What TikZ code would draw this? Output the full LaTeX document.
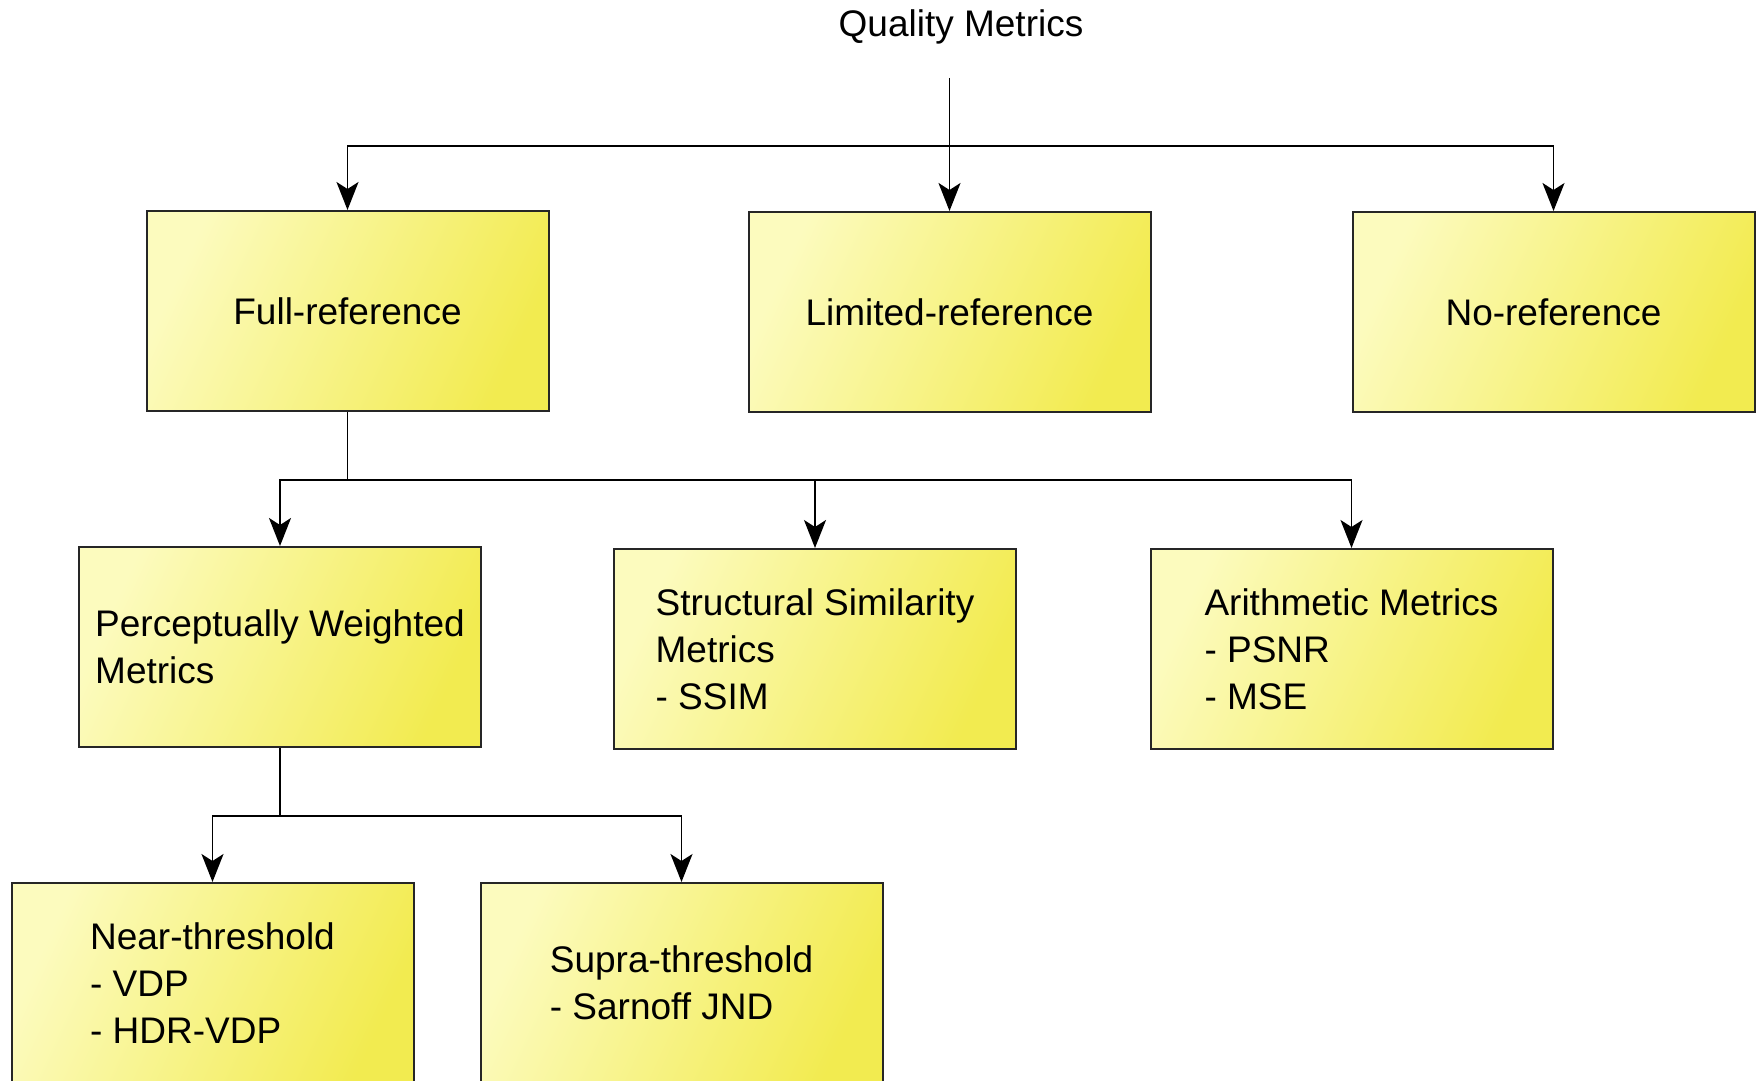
\documentclass[tikz,border=0pt]{standalone}
\usepackage{fontspec}
\setmainfont{Liberation Sans}
\usetikzlibrary{arrows.meta}
\definecolor{ylight}{RGB}{252,251,190}
\definecolor{ydark}{RGB}{242,235,80}
\begin{document}
\begin{tikzpicture}[x=1pt,y=-1pt,
  txt/.style={font=\fontsize{37}{47}\selectfont},
  box/.style={txt, draw=black!85, line width=2pt, minimum width=402pt, minimum height=200pt,
    inner sep=0pt, align=left, left color=ylight, right color=ydark, shading angle=65},
  arr/.style={line width=1.8pt, -{Stealth[length=28pt,width=22pt,inset=7pt]}},
  conn/.style={line width=1.8pt}]
\clip (0,0) rectangle (1756,1081);
\node[txt, anchor=base] (title) at (961,37) {Quality Metrics};
\node[box] (full) at (347.5,311) {Full-reference};
\node[box] (limited) at (949.5,312) {Limited-reference};
\node[box] (noref) at (1553.5,312) {No-reference};
\node[box] (perc) at (280,647) {Perceptually Weighted\\Metrics};
\node[box] (struct) at (815,649) {Structural Similarity\\Metrics\\- SSIM};
\node[box] (arith) at (1351.5,649) {Arithmetic Metrics\\- PSNR\\- MSE};
\node[box] (near) at (212.5,983) {Near-threshold\\- VDP\\- HDR-VDP};
\node[box] (supra) at (681.5,983) {Supra-threshold\\- Sarnoff JND};
% level 1
\coordinate (qstart) at (limited.north |- 0,78);
\coordinate (bus1) at (limited.north |- 0,146);
\draw[arr] (qstart) -- (limited.north);
\draw[arr] (bus1) -| (full.north);
\draw[arr] (bus1) -| (noref.north);
% level 2
\coordinate (bus2) at (full.south |- 0,480);
\draw[conn] (full.south) -- (bus2);
\draw[arr] (bus2) -| (perc.north);
\draw[arr] (bus2) -| (struct.north);
\draw[arr] (bus2) -| (arith.north);
% level 3
\coordinate (bus3) at (perc.south |- 0,816);
\draw[conn] (perc.south) -- (bus3);
\draw[arr] (bus3) -| (near.north);
\draw[arr] (bus3) -| (supra.north);
\end{tikzpicture}
\end{document}
